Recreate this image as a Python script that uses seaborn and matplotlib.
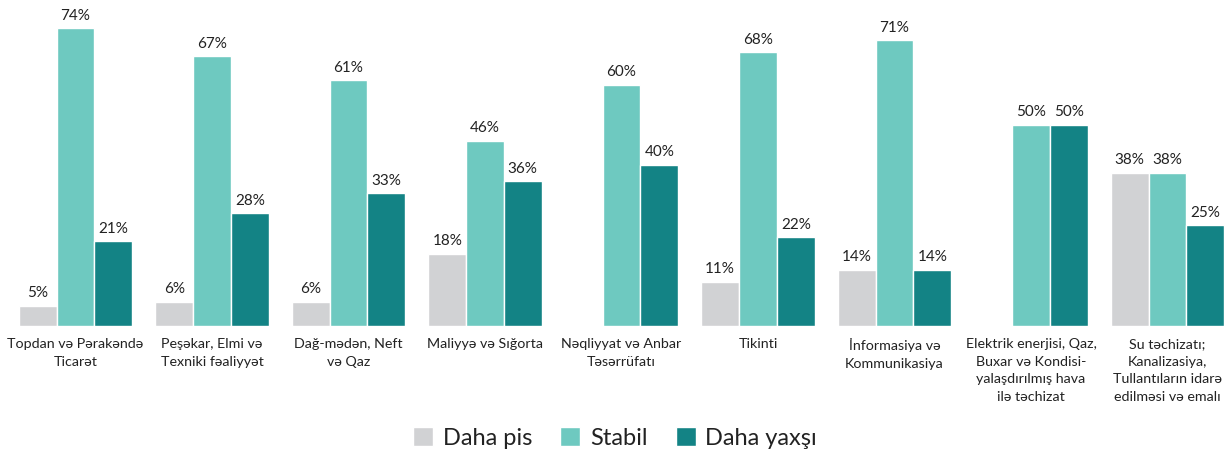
import matplotlib
matplotlib.use("Agg")
import matplotlib.pyplot as plt
import seaborn as sns
import pandas as pd
import numpy as np

# categories (x tick labels, wrapped as in the original)
categories = [
    "Topdan və Pərakəndə\nTicarət",
    "Peşəkar, Elmi və\nTexniki fəaliyyət",
    "Dağ-mədən, Neft\nvə Qaz",
    "Maliyyə və Sığorta",
    "Nəqliyyat və Anbar\nTəsərrüfatı",
    "Tikinti",
    "İnformasiya və\nKommunikasiya",
    "Elektrik enerjisi, Qaz,\nBuxar və Kondisi-\nyalaşdırılmış hava\nilə təchizat",
    "Su təchizatı;\nKanalizasiya,\nTullantıların idarə\nedilməsi və emalı",
]
series = ["Daha pis", "Stabil", "Daha yaxşı"]
daha_pis = [5, 6, 6, 18, None, 11, 14, None, 38]
stabil = [74, 67, 61, 46, 60, 68, 71, 50, 38]
daha_yaxsi = [21, 28, 33, 36, 40, 22, 14, 50, 25]
colors = ["#d1d2d4", "#6ec9c0", "#138385"]

values = [daha_pis, stabil, daha_yaxsi]
rows = []
for s, vals in zip(series, values):
    for c, v in zip(categories, vals):
        rows.append({"cat": c, "series": s, "value": np.nan if v is None else v})
df = pd.DataFrame(rows)
df["plot_value"] = df["value"].fillna(0)

sns.set_style("white")
plt.rcParams["font.family"] = ["Lato", "DejaVu Sans"]

fig = plt.figure(figsize=(12.3, 4.57), dpi=100)
ax = fig.add_axes([0, 0.2867, 1, 0.7133])

sns.barplot(data=df, x="cat", y="plot_value", hue="series", order=categories,
            hue_order=series, palette=colors, width=0.83, errorbar=None,
            saturation=1, edgecolor="white", linewidth=1, ax=ax, legend=True)

# value labels, none for the missing bars
for cont, vals in zip(ax.containers, values):
    labels = ["" if v is None else f"{v}%" for v in vals]
    ax.bar_label(cont, labels=labels, padding=4, fontsize=11, color="#222222")

ax.set_ylim(0, 81)
ax.set_xlim(-0.553, 8.458)
ax.set_yticks([])
ax.set_xlabel("")
ax.set_ylabel("")
ax.tick_params(axis="x", length=0, pad=9, labelsize=10.3, labelcolor="#222222")
plt.setp(ax.get_xticklabels(), linespacing=1.55)
sns.despine(ax=ax, left=True, bottom=True)

handles, labs = ax.get_legend_handles_labels()
leg = ax.legend(handles, labs, loc="center", ncol=3, frameon=False, fontsize=17,
                handlelength=0.85, handleheight=0.85, handletextpad=0.4,
                columnspacing=1.2, labelcolor="#222222")
leg.set_bbox_to_anchor((0.5, 0.042), transform=fig.transFigure)

fig.savefig("out.png", dpi=100)
